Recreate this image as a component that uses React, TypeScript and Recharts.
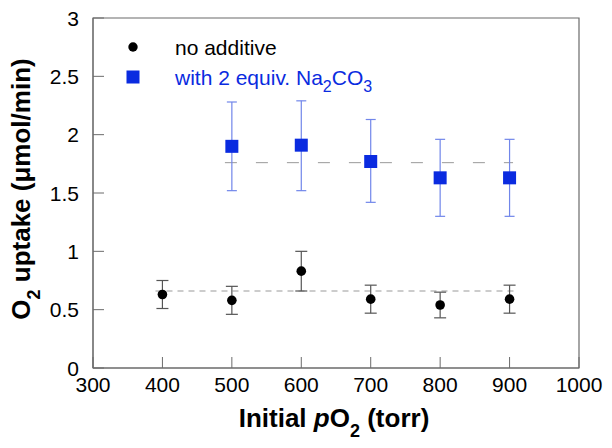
import * as React from 'react';
import {
  ScatterChart,
  Scatter,
  XAxis,
  YAxis,
  ErrorBar,
  ReferenceLine,
  ReferenceArea,
} from 'recharts';

// x values (initial pO2, torr)
const noAdditiveX = [400, 500, 600, 700, 800, 900];
const noAdditiveY = [0.63, 0.58, 0.83, 0.59, 0.54, 0.59];
const noAdditiveErr = [
  [0.12, 0.12],
  [0.12, 0.12],
  [0.17, 0.17],
  [0.12, 0.12],
  [0.11, 0.11],
  [0.12, 0.12],
];

const carbonateX = [500, 600, 700, 800, 900];
const carbonateY = [1.9, 1.91, 1.77, 1.63, 1.63];
const carbonateErr = [
  [0.38, 0.38],
  [0.39, 0.38],
  [0.35, 0.36],
  [0.33, 0.33],
  [0.33, 0.33],
];

const noAdditiveMean = { y: 0.66, from: 390, to: 910 };
const carbonateMean = { y: 1.76, from: 490, to: 905 };

const xTicks = [300, 400, 500, 600, 700, 800, 900, 1000];
const yTicks = [0, 0.5, 1, 1.5, 2, 2.5, 3];
const xDomain = [300, 1000];
const yDomain = [0, 3];

const legendLabels = ['no additive', 'with 2 equiv. Na'];

const BLUE = '#0a2be0';
const FRAME = '#6b6b6b';
const FONT = 'Liberation Sans, Arial, sans-serif';
const T = 4;
const TICK = 11;

const noAdditiveData = noAdditiveX.map((x, i) => ({ x, y: noAdditiveY[i], err: noAdditiveErr[i] }));
const carbonateData = carbonateX.map((x, i) => ({ x, y: carbonateY[i], err: carbonateErr[i] }));

const fmt = (v: number) => String(v);

const BottomTick = (props: any) => {
  const { x, y, payload } = props;
  return (
    <g>
      <line x1={x} y1={y - T} x2={x} y2={y - T - TICK} stroke={FRAME} strokeWidth={1} />
      <text x={x} y={y + 20} textAnchor="middle" fontSize={21} fontFamily={FONT} fill="#000">
        {fmt(payload.value)}
      </text>
    </g>
  );
};

const LeftTick = (props: any) => {
  const { x, y, payload } = props;
  return (
    <g>
      <line x1={x + T} y1={y} x2={x + T + TICK} y2={y} stroke={FRAME} strokeWidth={1} />
      <text x={x - 10} y={y + 7.5} textAnchor="end" fontSize={21} fontFamily={FONT} fill="#000">
        {fmt(payload.value)}
      </text>
    </g>
  );
};

const TopTick = (props: any) => {
  const { x, y } = props;
  return <line x1={x} y1={y + T} x2={x} y2={y + T + TICK} stroke={FRAME} strokeWidth={1} />;
};

const RightTick = (props: any) => {
  const { x, y } = props;
  return <line x1={x - T} y1={y} x2={x - T - TICK} y2={y} stroke={FRAME} strokeWidth={1} />;
};

const XTitle = (props: any) => {
  const { viewBox } = props;
  const cx = viewBox.x + viewBox.width / 2 - 2;
  return (
    <text x={cx} y={viewBox.y + 59} textAnchor="middle" fontSize={26} fontWeight="bold" fontFamily={FONT} fill="#000">
      Initial <tspan fontStyle="italic">p</tspan>O
      <tspan fontSize={18} dy={10}>2</tspan>
      <tspan dy={-10}> (torr)</tspan>
    </text>
  );
};

const YTitle = () => {
  const cx = 30;
  const cy = 189;
  return (
    <text
      x={cx}
      y={cy}
      transform={`rotate(-90 ${cx} ${cy})`}
      textAnchor="middle"
      fontSize={26}
      fontWeight="bold"
      fontFamily={FONT}
      fill="#000"
    >
      O<tspan fontSize={18} dy={10}>2</tspan>
      <tspan dy={-10}> uptake (μmol/min)</tspan>
    </text>
  );
};

const LegendBox = () => (
  <g fontFamily={FONT} fontSize={21}>
    <circle cx={133} cy={47} r={4.7} fill="#000" />
    <text x={175} y={54.5} fill="#000">{legendLabels[0]}</text>
    <rect x={126.5} y={70.5} width={13} height={13} fill={BLUE} />
    <text x={175} y={84.5} fill={BLUE}>
      {legendLabels[1]}
      <tspan fontSize={16} dy={7}>2</tspan>
      <tspan dy={-7}>CO</tspan>
      <tspan fontSize={16} dy={7}>3</tspan>
    </text>
  </g>
);

const Dot = (props: any) => {
  const { cx, cy } = props;
  return <circle cx={cx} cy={cy} r={4.8} fill="#000" />;
};

const Square = (props: any) => {
  const { cx, cy } = props;
  return <rect x={cx - 6.5} y={cy - 6.5} width={13} height={13} fill={BLUE} />;
};

export default function App() {
  return (
    <div style={{ position: 'absolute', left: 0, top: 0, width: 612, height: 448, background: '#fff' }}>
      <ScatterChart width={612} height={448} margin={{ top: 18, right: 33, bottom: 0, left: 33 }}>
        <XAxis
          xAxisId="b"
          type="number"
          dataKey="x"
          domain={xDomain}
          ticks={xTicks}
          interval={0}
          height={80}
          axisLine={{ stroke: FRAME }}
          tickSize={0}
          tickMargin={T}
          tick={<BottomTick />}
          label={<XTitle />}
        />
        <XAxis
          xAxisId="t"
          orientation="top"
          type="number"
          dataKey="x"
          domain={xDomain}
          ticks={xTicks}
          interval={0}
          height={0}
          axisLine={{ stroke: FRAME }}
          tickSize={0}
          tickMargin={T}
          tick={<TopTick />}
        />
        <YAxis
          yAxisId="l"
          type="number"
          dataKey="y"
          domain={yDomain}
          ticks={yTicks}
          interval={0}
          width={60}
          axisLine={{ stroke: FRAME }}
          tickSize={0}
          tickMargin={T}
          tick={<LeftTick />}
        />
        <YAxis
          yAxisId="r"
          orientation="right"
          type="number"
          dataKey="y"
          domain={yDomain}
          ticks={yTicks}
          interval={0}
          width={0}
          axisLine={{ stroke: FRAME }}
          tickSize={0}
          tickMargin={T}
          tick={<RightTick />}
        />
        <ReferenceArea
          xAxisId="b"
          yAxisId="l"
          x1={xDomain[0]}
          x2={xDomain[1]}
          y1={yDomain[0]}
          y2={yDomain[1]}
          fill="none"
          fillOpacity={0}
          stroke={FRAME}
          strokeWidth={1.2}
        />
        <ReferenceLine
          xAxisId="b"
          yAxisId="l"
          segment={[
            { x: noAdditiveMean.from, y: noAdditiveMean.y },
            { x: noAdditiveMean.to, y: noAdditiveMean.y },
          ]}
          stroke="#999"
          strokeDasharray="6 5"
        />
        <ReferenceLine
          xAxisId="b"
          yAxisId="l"
          segment={[
            { x: carbonateMean.from, y: carbonateMean.y },
            { x: carbonateMean.to, y: carbonateMean.y },
          ]}
          stroke="#999"
          strokeDasharray="12 19"
        />
        <Scatter
          xAxisId="b"
          yAxisId="l"
          name="no additive"
          data={noAdditiveData}
          shape={<Dot />}
          isAnimationActive={false}
        >
          <ErrorBar dataKey="err" direction="y" width={6} stroke="#555" strokeWidth={1.2} isAnimationActive={false} />
        </Scatter>
        <Scatter
          xAxisId="b"
          yAxisId="l"
          name="with carbonate"
          data={carbonateData}
          shape={<Square />}
          isAnimationActive={false}
        >
          <ErrorBar dataKey="err" direction="y" width={5} stroke="#7186ea" strokeWidth={1.2} isAnimationActive={false} />
        </Scatter>
        <LegendBox />
        <YTitle />
      </ScatterChart>
    </div>
  );
}
